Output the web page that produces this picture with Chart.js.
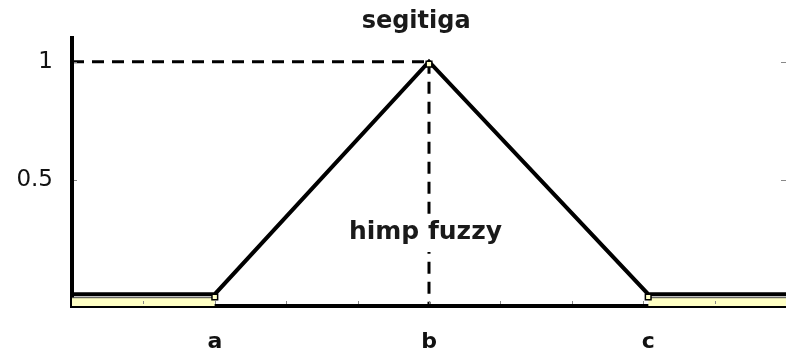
<!DOCTYPE html>
<html lang="id">
<head>
  <meta charset="UTF-8">
  <title>segitiga</title>
  <script src="https://cdn.jsdelivr.net/npm/chart.js"></script>
  <style>
    body { margin: 0; background: white; }
    #wrap { width: 786px; height: 356px; }
  </style>
</head>
<body>
<div id="wrap"><canvas id="fuzzyChart" width="786" height="356"></canvas></div>

<script>
  // titik segitiga (a, b, c) dan nilai keanggotaan
  const xPoints = [0, 2, 5, 8.07, 10];
  const yPoints = [0.02, 0.02, 1, 0.02, 0.02];
  const markX = [2, 5, 8.07];
  const markY = [0.008, 0.99, 0.008];
  const xTickVals = [2, 5, 8.07];
  const xTickLabels = ["a", "b", "c"];
  const yTickVals = [0.5, 1];
  const yTickLabels = ["0.5", "1"];
  const bandLeft = [0, 2];
  const bandRight = [8.07, 10];
  const bandY = 0.005;
  const xMin = 0, xMax = 10, yMin = -0.03, yMax = 1.1;

  const FONT = "'DejaVu Sans', Arial, sans-serif";

  function pts(xs, ys) {
    return xs.map((x, i) => ({ x: x, y: Array.isArray(ys) ? ys[i] : ys }));
  }

  // tulisan judul, label tengah dan tick kecil
  const extras = {
    id: "extras",
    afterDatasetsDraw(chart) {
      const c = chart.ctx;
      const xs = chart.scales.x, ys = chart.scales.y;
      const area = chart.chartArea;
      c.save();
      // tick kecil di sumbu x
      c.strokeStyle = "#888";
      c.lineWidth = 1;
      for (let v = xMin + 1; v < xMax; v++) {
        const px = Math.round(xs.getPixelForValue(v)) + 0.5;
        c.beginPath();
        c.moveTo(px, area.bottom - 2);
        c.lineTo(px, area.bottom - 5);
        c.stroke();
      }
      // tick kecil di kanan dan kiri
      yTickVals.forEach(v => {
        const py = Math.round(ys.getPixelForValue(v)) + 0.5;
        c.beginPath();
        c.moveTo(area.right, py);
        c.lineTo(area.right - 5, py);
        c.moveTo(area.left + 2, py);
        c.lineTo(area.left + 5, py);
        c.stroke();
      });
      // label tengah
      c.font = "bold 25px " + FONT;
      c.textAlign = "center";
      c.textBaseline = "middle";
      const tx = xs.getPixelForValue(4.95);
      const ty = 232;
      const w = c.measureText("himp fuzzy").width;
      c.fillStyle = "white";
      c.fillRect(tx - w / 2 - 4, ty - 18, w + 8, 38);
      c.fillStyle = "#1a1a1a";
      c.fillText("himp fuzzy", tx, ty);
      // judul
      c.font = "bold 24px " + FONT;
      c.fillText("segitiga", xs.getPixelForValue(4.82), 22);
      c.restore();
    }
  };

  const chart = new Chart(document.getElementById("fuzzyChart"), {
    type: "line",
    data: {
      datasets: [
        {
          label: "marker",
          data: pts(markX, markY),
          showLine: false,
          pointStyle: "rect",
          pointRadius: 4,
          pointBackgroundColor: "#ffffc8",
          pointBorderColor: "#000",
          pointBorderWidth: 1.5,
          order: 0
        },
        {
          label: "segitiga",
          data: pts(xPoints, yPoints),
          borderColor: "#000",
          borderWidth: 4,
          pointRadius: 0,
          order: 1
        },
        {
          label: "band kiri",
          data: pts(bandLeft, bandY),
          borderColor: "#444",
          borderWidth: 1,
          backgroundColor: "#ffffc4",
          fill: { value: yMin },
          pointRadius: 0,
          order: 2
        },
        {
          label: "band kanan",
          data: pts(bandRight, bandY),
          borderColor: "#444",
          borderWidth: 1,
          backgroundColor: "#ffffc4",
          fill: { value: yMin },
          pointRadius: 0,
          order: 2
        },
        {
          label: "garis 1",
          data: pts([xMin, 5], [1, 1]),
          borderColor: "#000",
          borderWidth: 3,
          borderDash: [12, 8],
          pointRadius: 0,
          order: 3
        },
        {
          label: "garis b",
          data: pts([5, 5], [1, yMin]),
          borderColor: "#000",
          borderWidth: 3,
          borderDash: [12, 8],
          pointRadius: 0,
          order: 3
        }
      ]
    },
    options: {
      responsive: false,
      animation: false,
      layout: { autoPadding: false, padding: { top: 38, right: 0, left: 0, bottom: 0 } },
      plugins: {
        legend: { display: false },
        tooltip: { enabled: false }
      },
      scales: {
        x: {
          type: "linear",
          min: xMin,
          max: xMax,
          afterBuildTicks: s => { s.ticks = xTickVals.map(v => ({ value: v })); },
          afterFit: s => { s.height = 50; },
          grid: { display: false },
          border: { color: "#000", width: 4 },
          ticks: {
            padding: 15,
            color: "#111",
            font: { family: FONT, size: 22, weight: "bold" },
            callback: v => xTickLabels[xTickVals.indexOf(v)]
          }
        },
        y: {
          type: "linear",
          min: yMin,
          max: yMax,
          afterBuildTicks: s => { s.ticks = yTickVals.map(v => ({ value: v })); },
          afterFit: s => { s.width = 72; },
          grid: { display: false },
          border: { color: "#000", width: 4 },
          ticks: {
            padding: 11,
            color: "#111",
            font: { family: FONT, size: 23 },
            callback: v => yTickLabels[yTickVals.indexOf(v)]
          }
        }
      }
    },
    plugins: [extras]
  });
</script>
</body>
</html>
